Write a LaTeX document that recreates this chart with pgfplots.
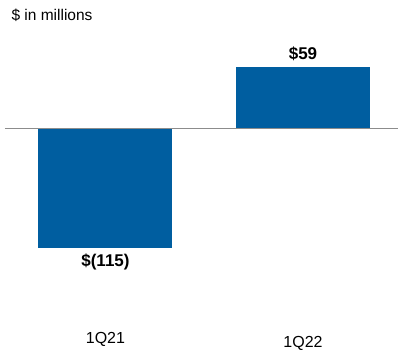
\documentclass[border=0pt]{standalone}
\usepackage{fontspec}
\setmainfont{Liberation Sans}
\usepackage{pgfplots}
\pgfplotsset{compat=1.18}
\definecolor{barblue}{RGB}{0,94,160}
\definecolor{zerogray}{RGB}{140,140,140}
\begin{document}
\begin{tikzpicture}
\path[use as bounding box] (0,0) rectangle (398pt,351pt);
\begin{axis}[
  at={(0,0)}, anchor=south west,
  scale only axis, width=398pt, height=351pt,
  xmin=-0.534, xmax=1.481,
  ymin=-214.1, ymax=123.4,
  axis lines=left, axis line style={draw=none},
  tick style={draw=none},
  ytick=\empty,
  xtick={0}, xticklabels={1Q21},
  extra x ticks={1}, extra x tick labels={1Q22},
  xticklabel style={anchor=center, yshift=16pt, font=\fontsize{16}{19}\selectfont},
  extra x tick style={xticklabel style={yshift=-4pt}},
  ybar, bar width=134pt, bar shift=0pt,
  clip=false,
  point meta=explicit symbolic,
]
\addplot[fill=barblue, draw=none, nodes near coords,
  every node near coord/.style={anchor=north, font=\bfseries\fontsize{17}{20}\selectfont, inner sep=6pt}]
  coordinates {(0,-115) [\$(115)]};
\addplot[fill=barblue, draw=none, nodes near coords,
  every node near coord/.style={anchor=south, font=\bfseries\fontsize{17}{20}\selectfont, inner sep=6pt}]
  coordinates {(1,59) [\$59]};
\draw[zerogray, line width=0.9pt] (axis cs:-0.509,0) -- (axis cs:1.481,0);
\end{axis}
\node[anchor=base west, font=\fontsize{15.5}{18}\selectfont] at (8pt,330pt) {\$ in millions};
\end{tikzpicture}
\end{document}
